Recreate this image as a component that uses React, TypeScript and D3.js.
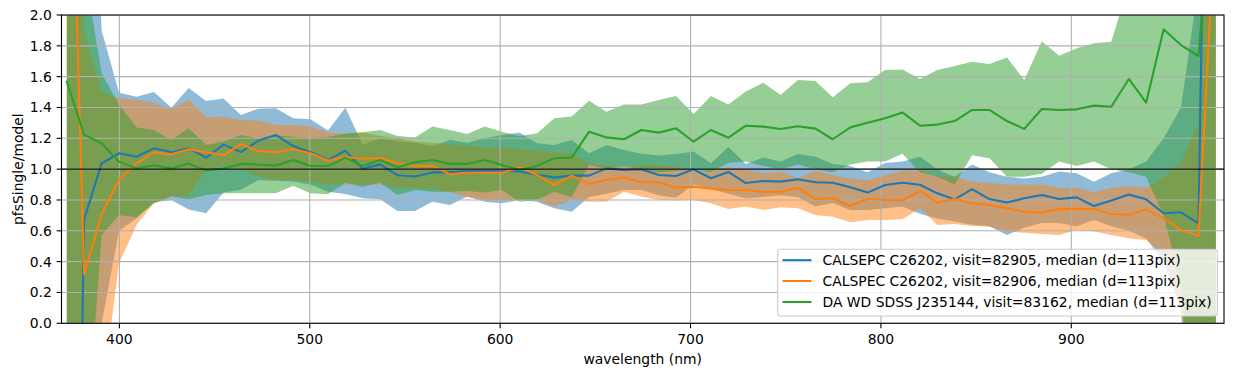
import React from "react";
import * as d3 from "d3";

// ---- data ----
const wavelength = [
  372.4, 381.5, 390.7, 399.8, 409.0, 418.1, 427.3, 436.4, 445.6, 454.7,
  463.8, 473.0, 482.1, 491.3, 500.4, 509.6, 518.7, 527.8, 537.0, 546.1,
  555.3, 564.4, 573.6, 582.7, 591.9, 601.0, 610.1, 619.3, 628.4, 637.6,
  646.7, 655.9, 665.0, 674.2, 683.3, 692.4, 701.6, 710.7, 719.9, 729.0,
  738.2, 747.3, 756.4, 765.6, 774.7, 783.9, 793.0, 802.2, 811.3, 820.5,
  829.6, 838.7, 847.9, 857.0, 866.2, 875.3, 884.5, 893.6, 902.8, 911.9,
  921.0, 930.2, 939.3, 948.5, 957.6, 966.8, 975.9,
];

const blueMedian = [
  -6, 0.675, 1.038, 1.103, 1.081, 1.135, 1.109, 1.135, 1.075, 1.159,
  1.111, 1.185, 1.222, 1.15, 1.11, 1.059, 1.12, 1.003, 1.031, 0.96,
  0.952, 0.979, 0.979, 0.988, 0.99, 0.99, 0.985, 0.965, 0.945, 0.958,
  0.958, 1.005, 0.995, 0.999, 0.962, 0.956, 0.999, 0.941, 0.982, 0.91,
  0.923, 0.919, 0.934, 0.915, 0.912, 0.882, 0.848, 0.897, 0.912, 0.899,
  0.843, 0.804, 0.871, 0.806, 0.783, 0.811, 0.832, 0.806, 0.817, 0.761,
  0.796, 0.836, 0.804, 0.714, 0.72, 0.649, 7.6,
];
const blueUpper = [
  6, 4.3, 1.9, 1.496, 1.47, 1.5, 1.399, 1.526, 1.442, 1.459,
  1.351, 1.392, 1.395, 1.33, 1.323, 1.25, 1.399, 1.16, 1.2, 1.18,
  1.17, 1.15, 1.189, 1.172, 1.2, 1.222, 1.237, 1.168, 1.157, 1.189,
  1.103, 1.157, 1.124, 1.1, 1.088, 1.099, 1.114, 1.038, 1.146, 1.034,
  1.075, 1.049, 1.099, 1.081, 1.034, 1.02, 0.98, 1.04, 1.05, 1.08,
  1.0, 0.95, 1.03, 0.98, 0.95, 0.94, 0.95, 0.984, 0.973, 0.919,
  0.973, 0.999, 1.05, 1.2, 1.4, 2.2, 8,
];
const blueLower = [
  -8, -4, 0.0, 0.6, 0.68, 0.783, 0.8, 0.739, 0.714, 0.848,
  0.866, 0.93, 0.925, 0.92, 0.9, 0.854, 0.839, 0.811, 0.804, 0.729,
  0.729, 0.789, 0.768, 0.822, 0.789, 0.778, 0.8, 0.789, 0.746, 0.724,
  0.82, 0.84, 0.865, 0.865, 0.83, 0.815, 0.9, 0.87, 0.84, 0.81,
  0.82, 0.83, 0.82, 0.757, 0.78, 0.735, 0.735, 0.746, 0.757, 0.71,
  0.68, 0.66, 0.64, 0.63, 0.573, 0.62, 0.65, 0.65, 0.63, 0.67,
  0.63, 0.6, 0.55, 0.4, 0.1, -1.5, -5,
];

const orangeMedian = [
  4.3, 0.318, 0.709, 0.93, 1.038, 1.109, 1.096, 1.129, 1.109, 1.09,
  1.163, 1.118, 1.109, 1.129, 1.103, 1.055, 1.079, 1.068, 1.072, 1.038,
  1.021, 1.021, 0.966, 0.977, 0.977, 0.977, 1.012, 0.964, 0.897, 0.958,
  0.904, 0.93, 0.945, 0.915, 0.915, 0.88, 0.886, 0.874, 0.865, 0.865,
  0.852, 0.852, 0.88, 0.806, 0.811, 0.761, 0.808, 0.8, 0.798, 0.859,
  0.783, 0.806, 0.778, 0.768, 0.746, 0.724, 0.718, 0.742, 0.742, 0.742,
  0.709, 0.705, 0.739, 0.681, 0.605, 0.566, 2.7,
];
const orangeUpper = [
  6, 1.9, 1.5, 1.46, 1.45, 1.431, 1.388, 1.453, 1.337, 1.341,
  1.319, 1.315, 1.287, 1.287, 1.276, 1.237, 1.232, 1.237, 1.215, 1.2,
  1.18, 1.17, 1.16, 1.15, 1.14, 1.14, 1.13, 1.12, 1.11, 1.1,
  1.034, 1.027, 1.016, 1.027, 1.027, 1.016, 0.986, 0.984, 1.012, 0.995,
  0.973, 0.984, 0.941, 0.99, 0.96, 0.94, 0.93, 0.96, 0.99, 0.99,
  0.95, 0.95, 0.92, 0.91, 0.9, 0.9, 0.9, 0.88, 0.88, 0.85,
  0.88, 0.89, 0.88, 0.95, 1.05, 1.3, 6,
];
const orangeLower = [
  -6, -4, -0.5, 0.389, 0.638, 0.778, 0.822, 0.83, 1.0, 1.02,
  1.0, 0.95, 0.93, 0.93, 0.92, 0.9, 0.9, 0.9, 0.9, 0.88,
  0.88, 0.87, 0.85, 0.82, 0.8, 0.8, 0.8, 0.8, 0.757, 0.8,
  0.789, 0.789, 0.854, 0.822, 0.8, 0.796, 0.8, 0.778, 0.742, 0.757,
  0.735, 0.753, 0.746, 0.703, 0.692, 0.655, 0.67, 0.67, 0.675, 0.746,
  0.638, 0.644, 0.631, 0.627, 0.595, 0.588, 0.579, 0.573, 0.605, 0.595,
  0.573, 0.551, 0.54, 0.45, 0.1, -1.5, -4,
];

const greenMedian = [
  1.568, 1.222, 1.168, 1.049, 1.005, 1.025, 1.005, 1.036, 0.992, 1.005,
  1.034, 1.029, 1.023, 1.059, 1.02, 1.02, 1.075, 1.021, 1.059, 1.012,
  1.044, 1.059, 1.034, 1.034, 1.059, 1.027, 0.995, 1.021, 1.071, 1.075,
  1.243, 1.206, 1.194, 1.254, 1.237, 1.265, 1.178, 1.254, 1.204, 1.282,
  1.276, 1.261, 1.278, 1.263, 1.194, 1.271, 1.301, 1.33, 1.368, 1.282,
  1.289, 1.312, 1.384, 1.384, 1.312, 1.261, 1.39, 1.384, 1.388, 1.412,
  1.405, 1.585, 1.431, 1.907, 1.805, 1.734, 3.1,
];
const greenUpper = [
  4, 2.3, 1.62, 1.42, 1.271, 1.254, 1.189, 1.265, 1.157, 1.178,
  1.222, 1.2, 1.22, 1.21, 1.2, 1.21, 1.23, 1.24, 1.254, 1.215,
  1.205, 1.276, 1.254, 1.228, 1.276, 1.243, 1.215, 1.232, 1.33, 1.341,
  1.444, 1.373, 1.42, 1.42, 1.449, 1.475, 1.358, 1.475, 1.42, 1.503,
  1.561, 1.481, 1.578, 1.572, 1.466, 1.557, 1.563, 1.643, 1.647, 1.585,
  1.643, 1.669, 1.697, 1.682, 1.725, 1.578, 1.83, 1.736, 1.784, 1.816,
  1.827, 2.2, 2.4, 2.6, 2.8, 3.0, 4.0,
];
const greenLower = [
  -3, -0.95, 0.573, 0.703, 0.688, 0.778, 0.822, 0.804, 0.832, 0.843,
  0.843, 0.843, 0.843, 0.892, 0.843, 0.837, 0.912, 0.886, 0.912, 0.832,
  0.865, 0.854, 0.854, 0.858, 0.848, 0.865, 0.789, 0.8, 0.854, 0.82,
  1.03, 1.0, 1.02, 1.0, 0.98, 0.99, 1.0, 0.98, 1.04, 1.05,
  1.02, 1.0, 1.03, 1.0, 0.98, 1.03, 1.05, 1.05, 1.1, 0.98,
  0.95, 0.9, 1.09, 1.07, 0.95, 0.95, 0.97, 1.05, 1.02, 1.05,
  1.0, 0.98, 0.95, 0.7, 0.25, -1.2, -3,
];

const seriesLabels = [
  "CALSEPC C26202, visit=82905, median (d=113pix)",
  "CALSPEC C26202, visit=82906, median (d=113pix)",
  "DA WD SDSS J235144, visit=83162, median (d=113pix)",
];
const seriesColors = ["#1f77b4", "#ff7f0e", "#2ca02c"];

const xTicks = [400, 500, 600, 700, 800, 900];
const yTicks = [0, 0.2, 0.4, 0.6, 0.8, 1.0, 1.2, 1.4, 1.6, 1.8, 2.0];

const series = [
  { label: seriesLabels[0], color: seriesColors[0], mid: blueMedian, lo: blueLower, hi: blueUpper },
  { label: seriesLabels[1], color: seriesColors[1], mid: orangeMedian, lo: orangeLower, hi: orangeUpper },
  { label: seriesLabels[2], color: seriesColors[2], mid: greenMedian, lo: greenLower, hi: greenUpper },
];

const W = 1233;
const H = 376;
const PL = 61.5;
const PR = 1224;
const PT = 15;
const PB = 323.3;
const FONT = "DejaVu Sans, sans-serif";
const FS = 13.9;

export default function App() {
  const x = d3.scaleLinear().domain([369.6, 980.2]).range([PL, PR]);
  const y = d3.scaleLinear().domain([0, 2]).range([PB, PT]);

  const area = (s: any) =>
    d3
      .area<number>()
      .x((_, i) => x(wavelength[i]))
      .y0((_, i) => y(s.lo[i]))
      .y1((_, i) => y(s.hi[i]))(s.mid) || "";
  const line = (s: any) =>
    d3
      .line<number>()
      .x((_, i) => x(wavelength[i]))
      .y((d) => y(d))(s.mid) || "";

  const tickLen = 4.86;
  const legX = 777.7;
  const legY = 249.3;
  const legW = 1217.3 - 777.7;
  const legH = 316 - 249.3;
  const rowY = [260.2, 281, 302];

  return (
    <svg
      width={W}
      height={H}
      style={{ position: "absolute", left: 0, top: 0, display: "block", background: "#fff" }}
      fontFamily={FONT}
    >
      <defs>
        <clipPath id="plotclip">
          <rect x={PL} y={PT} width={PR - PL} height={PB - PT} />
        </clipPath>
      </defs>
      <rect x={0} y={0} width={W} height={H} fill="#fff" />
      <g clipPath="url(#plotclip)">
        {series.map((s, k) => (
          <path key={"a" + k} d={area(s)} fill={s.color} fillOpacity={0.5} stroke="none" />
        ))}
        {xTicks.map((t) => (
          <line key={"gx" + t} x1={x(t)} x2={x(t)} y1={PT} y2={PB} stroke="#b0b0b0" strokeWidth={1.1} />
        ))}
        {yTicks.map((t) => (
          <line key={"gy" + t} x1={PL} x2={PR} y1={y(t)} y2={y(t)} stroke="#b0b0b0" strokeWidth={1.1} />
        ))}
        {series.map((s, k) => (
          <path
            key={"l" + k}
            d={line(s)}
            fill="none"
            stroke={s.color}
            strokeWidth={2.08}
            strokeLinejoin="round"
            strokeLinecap="square"
          />
        ))}
        <line x1={PL} x2={PR} y1={y(1)} y2={y(1)} stroke="#111" strokeWidth={1.2} />
      </g>
      {/* frame */}
      <rect x={PL} y={PT} width={PR - PL} height={PB - PT} fill="none" stroke="#000" strokeWidth={1.1} />
      {/* x ticks */}
      {xTicks.map((t) => (
        <g key={"xt" + t}>
          <line x1={x(t)} x2={x(t)} y1={PB} y2={PB + tickLen} stroke="#000" strokeWidth={1.1} />
          <text x={x(t)} y={PB + 20.5} fontSize={FS} textAnchor="middle" fill="#000">
            {t}
          </text>
        </g>
      ))}
      {yTicks.map((t) => (
        <g key={"yt" + t}>
          <line x1={PL - tickLen} x2={PL} y1={y(t)} y2={y(t)} stroke="#000" strokeWidth={1.1} />
          <text x={PL - 9.7} y={y(t) + 5} fontSize={FS} textAnchor="end" fill="#000">
            {t.toFixed(1)}
          </text>
        </g>
      ))}
      <text x={(PL + PR) / 2} y={363.5} fontSize={FS} textAnchor="middle" fill="#000">
        wavelength (nm)
      </text>
      <text
        transform={`translate(22.5, ${(PT + PB) / 2}) rotate(-90)`}
        fontSize={FS}
        textAnchor="middle"
        fill="#000"
      >
        pfsSingle/model
      </text>
      {/* legend */}
      <rect
        x={legX}
        y={legY}
        width={legW}
        height={legH}
        rx={3}
        ry={3}
        fill="#fff"
        fillOpacity={0.8}
        stroke="#cccccc"
        strokeWidth={1.1}
      />
      {series.map((s, k) => (
        <g key={"lg" + k}>
          <line x1={782.5} x2={811.5} y1={rowY[k]} y2={rowY[k]} stroke={s.color} strokeWidth={2.08} />
          <text x={822.5} y={rowY[k] + 5} fontSize={FS} fill="#000">
            {s.label}
          </text>
        </g>
      ))}
    </svg>
  );
}
